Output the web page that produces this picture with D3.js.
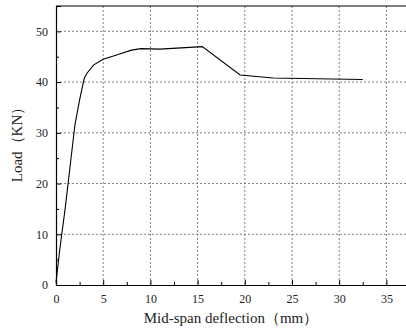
<!DOCTYPE html>
<html>
<head>
<meta charset="utf-8">
<script src="https://cdn.jsdelivr.net/npm/d3@7"></script>
<style>
  body { margin: 0; background: #fff; }
  svg { display: block; }
  svg text { font-family: "Liberation Serif", "Times New Roman", Times, "DejaVu Serif", serif !important; }
</style>
</head>
<body>
<svg id="chart" width="406" height="331"></svg>
<script>
// Data
const deflection = [0, 0.4, 1.0, 1.5, 2.0, 2.5, 3.0, 3.3, 4.0, 5.0, 6.5, 8.0, 9.0, 11.0, 15.5, 19.5, 23.0, 32.5];
const load       = [0.5, 7.0, 15.5, 23.5, 31.5, 36.5, 40.8, 41.8, 43.4, 44.5, 45.4, 46.3, 46.6, 46.5, 47.0, 41.4, 40.8, 40.5];
const xTicks = [0, 5, 10, 15, 20, 25, 30, 35];
const yTicks = [0, 10, 20, 30, 40, 50];
const xLabel = "Mid-span deflection（mm）";
const yLabel = "Load（KN）";

const svg = d3.select("#chart");
const margin = {left: 56, top: 6, bottom: 46};
const width = 410 - margin.left;
const height = 331 - margin.top - margin.bottom;

const x = d3.scaleLinear().domain([0, 37.5]).range([0, width]);
const y = d3.scaleLinear().domain([0, 55]).range([height, 0]);

const g = svg.append("g")
    .attr("transform", `translate(${margin.left},${margin.top})`);

// Grid (dotted, at major ticks)
g.append("g").selectAll("line")
    .data(xTicks.slice(1))
    .enter().append("line")
    .attr("x1", d => x(d)).attr("x2", d => x(d))
    .attr("y1", 0).attr("y2", height)
    .attr("stroke", "#808080").attr("stroke-width", 1)
    .attr("stroke-dasharray", "2,2");
g.append("g").selectAll("line")
    .data(yTicks.slice(1))
    .enter().append("line")
    .attr("x1", 0).attr("x2", width)
    .attr("y1", d => y(d)).attr("y2", d => y(d))
    .attr("stroke", "#808080").attr("stroke-width", 1)
    .attr("stroke-dasharray", "2,2");

// Top frame line
g.append("line")
    .attr("x1", 0).attr("x2", width)
    .attr("y1", 0).attr("y2", 0)
    .attr("stroke", "#000").attr("stroke-width", 1.2);

// Axes (ticks inward)
const xAxis = g.append("g")
    .attr("transform", `translate(0,${height})`)
    .call(d3.axisBottom(x).tickValues(xTicks).tickSize(-5).tickPadding(9).tickFormat(d3.format("d")));
const xMinor = g.append("g")
    .attr("transform", `translate(0,${height})`)
    .call(d3.axisBottom(x).tickValues(d3.range(2.5, 37.5, 5)).tickSize(-3).tickFormat(""));
const yAxis = g.append("g")
    .call(d3.axisLeft(y).tickValues(yTicks).tickSize(-5).tickPadding(8).tickFormat(d3.format("d")));
const yMinor = g.append("g")
    .call(d3.axisLeft(y).tickValues(d3.range(5, 55, 10)).tickSize(-3).tickFormat(""));

[xAxis, xMinor, yAxis, yMinor].forEach(a => {
    a.attr("font-family", null);
    a.select(".domain").attr("stroke-width", 1.2);
    a.selectAll(".tick line").attr("stroke-width", 1);
    a.selectAll("text").style("font-size", "12px").attr("fill", "#222");
});
xMinor.select(".domain").remove();
yMinor.select(".domain").remove();

// Curve
const data = deflection.map((d, i) => ({x: d, y: load[i]}));
const line = d3.line().x(d => x(d.x)).y(d => y(d.y));
g.append("path")
    .datum(data)
    .attr("d", line)
    .attr("fill", "none")
    .attr("stroke", "#000")
    .attr("stroke-width", 1.1);

// Axis titles
svg.append("text")
    .attr("x", 231).attr("y", 323)
    .attr("text-anchor", "middle")
    .style("font-size", "15px")
    .attr("fill", "#222")
    .text(xLabel);
svg.append("text")
    .attr("transform", `translate(22,141) rotate(-90)`)
    .attr("text-anchor", "middle")
    .style("font-size", "15px")
    .attr("fill", "#222")
    .text(yLabel);
</script>
</body>
</html>
